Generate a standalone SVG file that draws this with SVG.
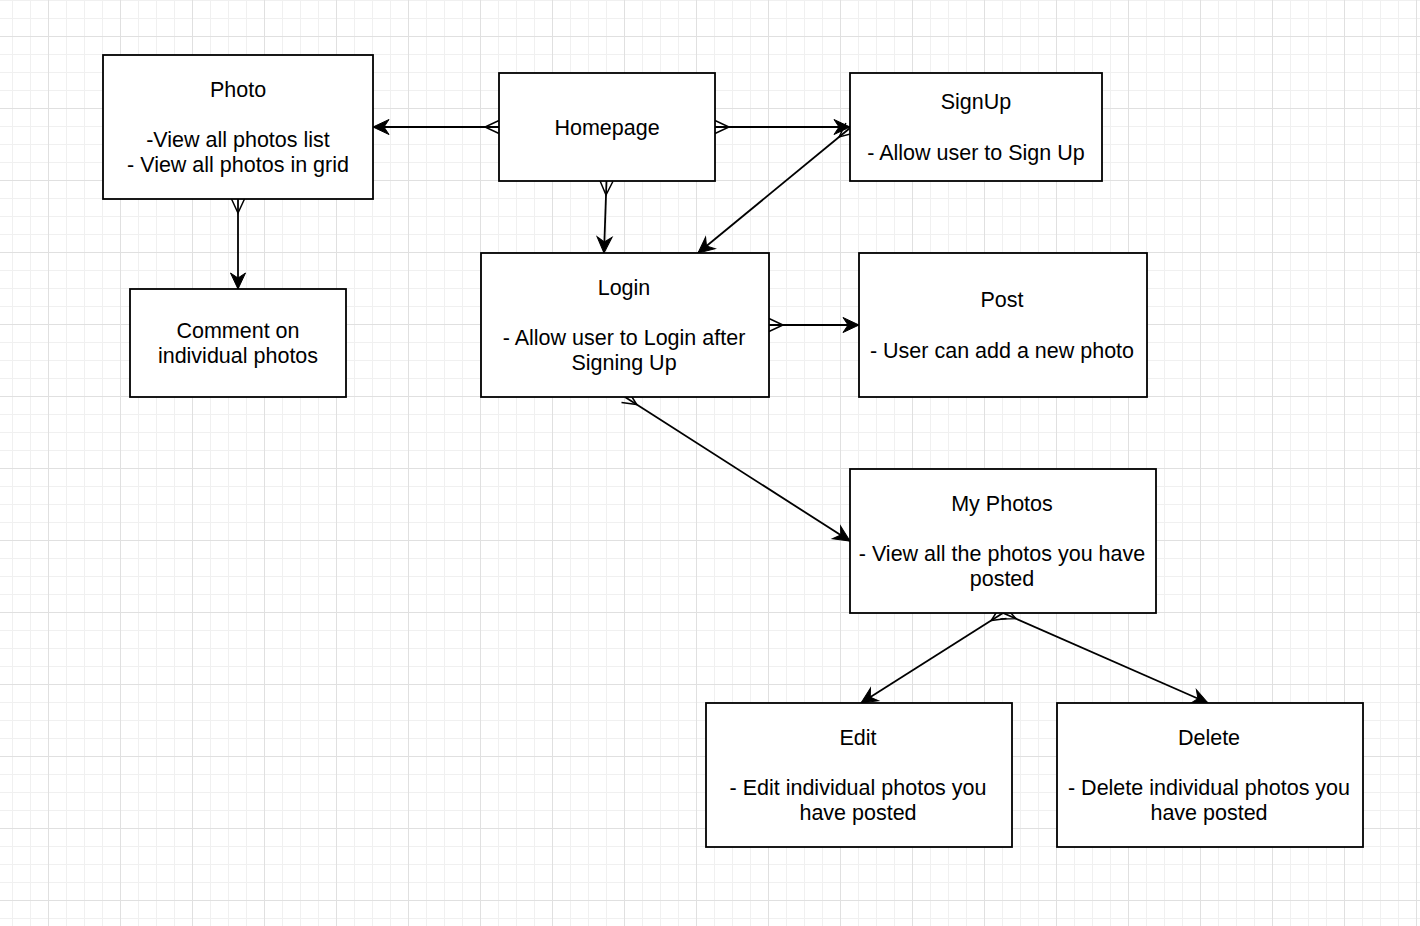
<svg xmlns="http://www.w3.org/2000/svg" width="1420" height="926" viewBox="0 0 1420 926">
<style>
.box{fill:#ffffff;stroke:#000000;stroke-width:1.8}
.lbl{font-family:"Liberation Sans",Arial,Helvetica,sans-serif;font-size:21.5px;fill:#000000;text-anchor:middle}
.edge{fill:none;stroke:#000000;stroke-width:1.8;marker-start:url(#many);marker-end:url(#arrow)}
</style>
<defs>
<pattern id="grid" patternUnits="userSpaceOnUse" x="12" y="0" width="72" height="72">
<rect x="0" y="0" width="72" height="72" fill="#ffffff"/>
<rect x="0" y="0" width="1" height="72" fill="#f0f0f0"/>
<rect x="18" y="0" width="1" height="72" fill="#f0f0f0"/>
<rect x="54" y="0" width="1" height="72" fill="#f0f0f0"/>
<rect x="0" y="0" width="72" height="1" fill="#f0f0f0"/>
<rect x="0" y="18" width="72" height="1" fill="#f0f0f0"/>
<rect x="0" y="54" width="72" height="1" fill="#f0f0f0"/>
<rect x="36" y="0" width="1" height="72" fill="#e0e0e0"/>
<rect x="0" y="36" width="72" height="1" fill="#e0e0e0"/>
</pattern>
<marker id="arrow" markerUnits="userSpaceOnUse" viewBox="-18 -9 20 18" refX="0" refY="0" markerWidth="20" markerHeight="18" orient="auto" overflow="visible">
<path d="M0,0 L-16,-7.5 L-11,0 L-16,7.5 Z" fill="#000000" stroke="#000000" stroke-width="1" stroke-linejoin="miter"/>
</marker>
<marker id="many" markerUnits="userSpaceOnUse" viewBox="-2 -9 20 18" refX="0" refY="0" markerWidth="20" markerHeight="18" orient="auto" overflow="visible">
<path d="M0,-6.5 L14,0 L0,6.5" fill="none" stroke="#000000" stroke-width="1.5"/>
</marker>
</defs>
<rect x="0" y="0" width="1420" height="926" fill="url(#grid)"/>
<g id="connectors">
<path class="edge" d="M499,127 L373,127"/>
<path class="edge" d="M715,127 L850,127"/>
<path class="edge" d="M606.5,181 L604,253"/>
<path class="edge" d="M850,128 L698,253"/>
<path class="edge" d="M238,199 L238,289"/>
<path class="edge" d="M769,325 L859,325"/>
<path class="edge" d="M625,397 L850,541"/>
<path class="edge" d="M1003,613 L861,703"/>
<path class="edge" d="M1003,613 L1208,703"/>
</g>
<g id="node-photo">
<rect class="box" x="103" y="55" width="270" height="144"/>
<text class="lbl" x="238" y="96.7">Photo</text>
<text class="lbl" x="238" y="147.1">-View all photos list</text>
<text class="lbl" x="238" y="172.3">- View all photos in grid</text>
</g>
<g id="node-homepage">
<rect class="box" x="499" y="73" width="216" height="108"/>
<text class="lbl" x="607" y="134.5">Homepage</text>
</g>
<g id="node-signup">
<rect class="box" x="850" y="73" width="252" height="108"/>
<text class="lbl" x="976" y="109.3">SignUp</text>
<text class="lbl" x="976" y="159.7">- Allow user to Sign Up</text>
</g>
<g id="node-comment">
<rect class="box" x="130" y="289" width="216" height="108"/>
<text class="lbl" x="238" y="337.9">Comment on</text>
<text class="lbl" x="238" y="363.1">individual photos</text>
</g>
<g id="node-login">
<rect class="box" x="481" y="253" width="288" height="144"/>
<text class="lbl" x="624" y="294.7">Login</text>
<text class="lbl" x="624" y="345.1">- Allow user to Login after</text>
<text class="lbl" x="624" y="370.3">Signing Up</text>
</g>
<g id="node-post">
<rect class="box" x="859" y="253" width="288" height="144"/>
<text class="lbl" x="1002" y="307.3">Post</text>
<text class="lbl" x="1002" y="357.7">- User can add a new photo</text>
</g>
<g id="node-myphotos">
<rect class="box" x="850" y="469" width="306" height="144"/>
<text class="lbl" x="1002" y="510.7">My Photos</text>
<text class="lbl" x="1002" y="561.1">- View all the photos you have</text>
<text class="lbl" x="1002" y="586.3">posted</text>
</g>
<g id="node-edit">
<rect class="box" x="706" y="703" width="306" height="144"/>
<text class="lbl" x="858" y="744.7">Edit</text>
<text class="lbl" x="858" y="795.1">- Edit individual photos you</text>
<text class="lbl" x="858" y="820.3">have posted</text>
</g>
<g id="node-delete">
<rect class="box" x="1057" y="703" width="306" height="144"/>
<text class="lbl" x="1209" y="744.7">Delete</text>
<text class="lbl" x="1209" y="795.1">- Delete individual photos you</text>
<text class="lbl" x="1209" y="820.3">have posted</text>
</g>
</svg>
